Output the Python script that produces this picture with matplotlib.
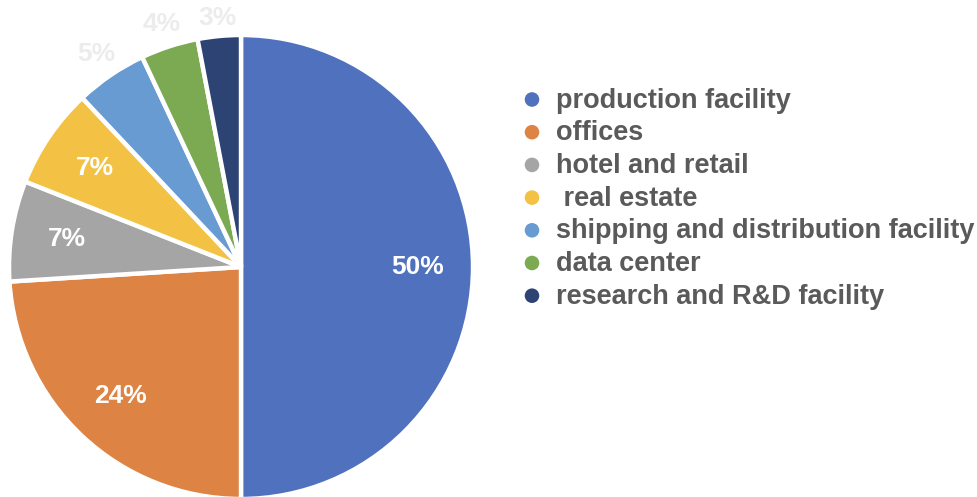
import numpy as np
import matplotlib.pyplot as plt

# share of each facility type, clockwise from 12 o'clock
categories = ['production facility', 'offices', 'hotel and retail', ' real estate',
              'shipping and distribution facility', 'data center', 'research and R&D facility']
shares = [50, 24, 7, 7, 5, 4, 3]
colors = ['#4F71BE', '#DD8344', '#A5A5A5', '#F3C143', '#699BD3', '#7BAA53', '#2C4374']
# how far past the rim the small-slice labels sit (fraction of radius)
outer_dist = {5: 1.11, 4: 1.10, 3: 1.08}

plt.rcParams['font.family'] = ['Liberation Sans', 'DejaVu Sans']

W, H = 978, 497
fig = plt.figure(figsize=(W / 100, H / 100), dpi=100)
ax = fig.add_axes([0, 0, 1, 1])

cx, cy, r = 241, H - 267, 232
wedges, texts, pcts = ax.pie(
    shares, colors=colors, startangle=90, counterclock=False,
    center=(cx, cy), radius=r, autopct='%d%%', pctdistance=0.76,
    wedgeprops=dict(edgecolor='white', linewidth=3.2),
    textprops=dict(color='white', fontsize=19, fontweight='bold'))

# small slices get their labels pushed out past the rim
for w, t, s in zip(wedges, pcts, shares):
    if s in outer_dist:
        ang = np.deg2rad((w.theta1 + w.theta2) / 2)
        d = outer_dist[s] * r
        t.set_position((cx + d * np.cos(ang), cy + d * np.sin(ang)))
        t.set_color('#ececec')

# legend drawn by hand
lx, ly, step = 532, H - 100.5, 32.7
for i, (name, c) in enumerate(zip(categories, colors)):
    y = ly - i * step
    ax.scatter([lx], [y + 1], s=110, color=c, edgecolors='none')
    ax.text(lx + 24, y, name, fontsize=19.5, fontweight='bold', color='#5a5a5a',
            va='center', ha='left')

ax.set_xlim(0, W)
ax.set_ylim(0, H)
ax.set_aspect('equal')
ax.axis('off')

fig.savefig('out.png', dpi=100)
